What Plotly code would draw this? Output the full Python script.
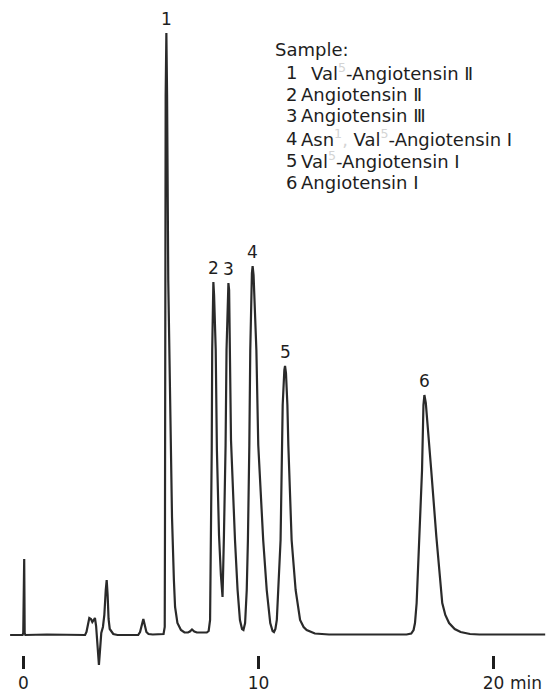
import numpy as np
import plotly.graph_objects as go

# Detector trace: retention time (min) and detector response (arbitrary units)
time_min = [
    -0.57, -0.04, -0.01, 0.01, 0.03, 0.05, 0.08, 1.00, 2.00, 2.62,
    2.68, 2.74, 2.80, 2.87, 2.93, 2.99, 3.04, 3.09, 3.14, 3.21,
    3.26, 3.31, 3.38, 3.44, 3.50, 3.54, 3.58, 3.62, 3.67, 3.74,
    3.82, 4.00, 4.88, 4.96, 5.03, 5.10, 5.16, 5.23, 5.32, 5.50,
    5.96, 6.01, 6.02, 6.03, 6.05, 6.08, 6.11, 6.16, 6.26, 6.32,
    6.40, 6.45, 6.55, 6.70, 6.85, 7.00, 7.08, 7.17, 7.27, 7.38,
    7.80, 7.88, 7.94, 7.98, 8.01, 8.03, 8.06, 8.08, 8.11, 8.18,
    8.23, 8.32, 8.40, 8.47, 8.53, 8.60, 8.64, 8.70, 8.72, 8.75,
    8.79, 8.83, 9.00, 9.11, 9.21, 9.30, 9.36, 9.43, 9.50, 9.55,
    9.61, 9.65, 9.72, 9.75, 9.79, 9.91, 9.99, 10.20, 10.35, 10.50,
    10.60, 10.66, 10.72, 10.78, 10.84, 10.94, 11.00, 11.03, 11.10, 11.13,
    11.17, 11.23, 11.27, 11.41, 11.58, 11.77, 11.92, 12.05, 12.40, 13.00,
    16.30, 16.50, 16.60, 16.66, 16.73, 16.84, 16.96, 17.02, 17.06, 17.12,
    17.20, 17.35, 17.57, 17.82, 17.95, 18.11, 18.35, 18.60, 19.00, 19.40,
    22.20,
]
response = [
    0, 0, 2, 76, 76, 2, 0, 0.5, 0, 0,
    3, 12, 17, 16, 13, 15, 17, 9, -8, -30,
    -14, 2, 8, 20, 45, 55, 40, 16, 6, 4,
    1, 0, 0, 3, 10, 16, 10, 3, 1, 0.5,
    1, 8, 100, 355, 540, 602, 540, 355, 195, 118,
    55, 28, 12, 5, 2.5, 2.5, 3.5, 5.5, 3.5, 2.5,
    2.5, 4, 15, 100, 185, 285, 345, 353, 340, 285,
    185, 100, 60, 38, 100, 190, 285, 348, 352, 345,
    285, 195, 95, 45, 15, 6, 5, 12, 45, 95,
    190, 285, 362, 369, 360, 285, 190, 95, 45, 12,
    4, 3, 6, 15, 45, 95, 185, 230, 265, 269,
    262, 230, 190, 95, 45, 15, 8, 5, 1.5, 0.5,
    0.5, 1.5, 5, 12, 32, 98, 165, 230, 240, 232,
    205, 165, 98, 32, 20, 12, 6, 3, 1, 0.5,
    0.5,
]

# Peak numbering and retention times of the labelled peaks
peak_numbers = ["1", "2", "3", "4", "5", "6"]
peak_times = [6.08, 8.08, 8.72, 9.75, 11.13, 17.06]

# Sample composition
sample_names = [
    "Val<span style='color:#d4d4d4'><sup>5</sup></span>-Angiotensin Ⅱ",
    "Angiotensin Ⅱ",
    "Angiotensin Ⅲ",
    "Asn<span style='color:#d4d4d4'><sup>1</sup>,</span> Val<span style='color:#d4d4d4'><sup>5</sup></span>-Angiotensin I",
    "Val<span style='color:#d4d4d4'><sup>5</sup></span>-Angiotensin I",
    "Angiotensin I",
]

# Time axis ticks
tick_values = [0, 10, 20]
tick_labels = ["0", "10", "20"]

W, H = 548, 692
FONT = "DejaVu Sans"
INK = "#1e1e1e"

fig = go.Figure()
fig.add_trace(go.Scatter(
    x=time_min, y=response, mode="lines",
    line=dict(color="#2a2a2a", width=2.2),
    hoverinfo="skip", showlegend=False,
))

# Peak numbers above each apex
peak_heights = np.interp(peak_times, time_min, response)
for num, t, h in zip(peak_numbers, peak_times, peak_heights):
    fig.add_annotation(
        x=t, y=h, text=num, showarrow=False, yanchor="middle", yshift=14,
        font=dict(family=FONT, size=17, color=INK),
    )

# Sample list
fig.add_annotation(
    xref="paper", yref="paper", x=273 / W, y=1 - 49 / H,
    text="Sample:", showarrow=False, xanchor="left", yanchor="middle",
    font=dict(family=FONT, size=18, color=INK),
)
for i, name in enumerate(sample_names):
    yc = 1 - (72 + i * 22) / H
    fig.add_annotation(
        xref="paper", yref="paper", x=284 / W, y=yc, text=str(i + 1),
        showarrow=False, xanchor="left", yanchor="middle",
        font=dict(family=FONT, size=18, color=INK),
    )
    fig.add_annotation(
        xref="paper", yref="paper", x=(309 if i == 0 else 299) / W, y=yc,
        text=name, showarrow=False, xanchor="left", yanchor="middle",
        font=dict(family=FONT, size=18, color=INK),
    )

# Unit next to the last tick label
fig.add_annotation(
    x=20, xref="x", yref="paper", y=1 - 683 / H, text="min",
    showarrow=False, xanchor="left", yanchor="middle", xshift=15,
    font=dict(family=FONT, size=17, color=INK),
)

fig.update_layout(
    width=W, height=H,
    margin=dict(l=0, r=0, t=0, b=0),
    paper_bgcolor="white", plot_bgcolor="white",
    xaxis=dict(
        range=[-1.0, 22.32], showgrid=False, zeroline=False, showline=False,
        anchor="free", position=37 / H,
        ticks="outside", ticklen=13, tickwidth=2.5, tickcolor=INK,
        tickvals=tick_values, ticktext=tick_labels,
        tickfont=dict(family=FONT, size=17, color=INK),
    ),
    yaxis=dict(range=[-57, 635], visible=False),
)

fig.write_html("out.html")
